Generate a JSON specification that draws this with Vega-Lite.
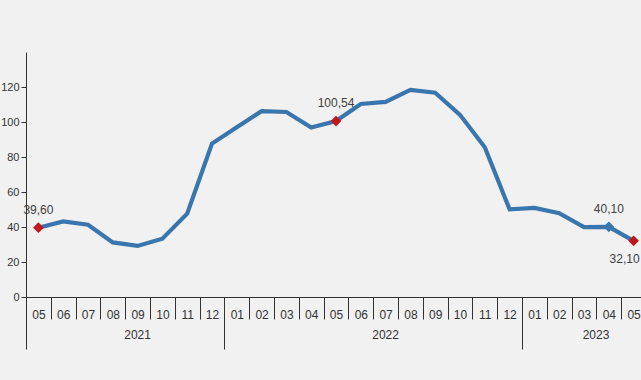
{
  "$schema": "https://vega.github.io/schema/vega-lite/v6.json",
  "width": 615,
  "height": 245,
  "autosize": {"type": "none"},
  "padding": {"left": 26, "top": 52, "right": 0, "bottom": 83},
  "background": "#f1f1f1",
  "config": {"view": {"stroke": null}, "font": "Liberation Sans"},
  "data": {
    "values": [
      {"month": "2021-05", "value": 39.60},
      {"month": "2021-06", "value": 43.2},
      {"month": "2021-07", "value": 41.3},
      {"month": "2021-08", "value": 31.2},
      {"month": "2021-09", "value": 29.2},
      {"month": "2021-10", "value": 33.3},
      {"month": "2021-11", "value": 47.6},
      {"month": "2021-12", "value": 87.7},
      {"month": "2022-01", "value": 97.0},
      {"month": "2022-02", "value": 106.2},
      {"month": "2022-03", "value": 105.7},
      {"month": "2022-04", "value": 96.8},
      {"month": "2022-05", "value": 100.54},
      {"month": "2022-06", "value": 110.3},
      {"month": "2022-07", "value": 111.5},
      {"month": "2022-08", "value": 118.3},
      {"month": "2022-09", "value": 116.7},
      {"month": "2022-10", "value": 104.1},
      {"month": "2022-11", "value": 85.6},
      {"month": "2022-12", "value": 50.1},
      {"month": "2023-01", "value": 50.9},
      {"month": "2023-02", "value": 47.9},
      {"month": "2023-03", "value": 39.9},
      {"month": "2023-04", "value": 40.10},
      {"month": "2023-05", "value": 32.1}
    ]
  },
  "transform": [
    {"calculate": "replace(format(datum.value, '.2f'), '.', ',')", "as": "label"}
  ],
  "resolve": {"axis": {"x": "independent"}},
  "layer": [
    {
      "mark": {"type": "line", "color": "#3a76ae", "strokeWidth": 4.2},
      "encoding": {
        "x": {
          "field": "month", "type": "ordinal", "sort": null,
          "scale": {"paddingInner": 0, "paddingOuter": 0, "range": [0, 620]},
          "axis": {
            "orient": "bottom", "title": null, "tickBand": "extent", "tickSize": 22,
            "tickColor": "#333333", "domainColor": "#333333", "labelAngle": 0,
            "labelPadding": -10, "labelFontSize": 12, "labelColor": "#333333",
            "labelExpr": "isString(datum.value) ? substring(datum.value, 5, 7) : ''", "grid": false
          }
        },
        "y": {
          "field": "value", "type": "quantitative",
          "scale": {"domain": [0, 140], "nice": false},
          "axis": {
            "title": null, "values": [0, 20, 40, 60, 80, 100, 120], "tickSize": 5,
            "labelPadding": 2, "labelFontSize": 11, "labelColor": "#333333",
            "domainColor": "#333333", "tickColor": "#333333", "grid": false
          }
        }
      }
    },
    {
      "transform": [{"filter": "indexof(['2021-05','2022-05','2023-04','2023-05'], datum.month) >= 0"}],
      "mark": {"type": "point", "shape": "diamond", "filled": true, "size": 115, "opacity": 1},
      "encoding": {
        "x": {
          "field": "month", "type": "ordinal", "sort": null,
          "axis": {
            "orient": "bottom", "title": null, "values": ["2021-05", "2022-01", "2023-01"],
            "bandPosition": 0, "tickSize": 52, "tickColor": "#333333", "labels": false,
            "domain": false, "grid": false
          }
        },
        "y": {"field": "value", "type": "quantitative"},
        "color": {
          "condition": {"test": "datum.month == '2023-04'", "value": "#3a76ae"},
          "value": "#c0171d"
        }
      }
    },
    {
      "transform": [{"filter": "indexof(['2021-05','2022-05','2023-04'], datum.month) >= 0"}],
      "mark": {"type": "text", "dy": -18, "fontSize": 12, "color": "#404040"},
      "encoding": {
        "x": {
          "field": "month", "type": "ordinal", "sort": null,
          "axis": {
            "orient": "bottom", "title": null, "values": ["2021-09", "2022-07", "2023-03"],
            "bandPosition": 0, "ticks": false, "domain": false, "grid": false,
            "labelPadding": 32, "labelFontSize": 12, "labelColor": "#333333", "labelAngle": 0,
            "labelExpr": "isString(datum.value) ? substring(datum.value, 0, 4) : ''",
            "labelOffset": {"condition": {"test": "datum.value == '2023-03'", "value": 12}, "value": 0}
          }
        },
        "y": {"field": "value", "type": "quantitative"},
        "text": {"field": "label"}
      }
    },
    {
      "transform": [{"filter": "datum.month == '2023-05'"}],
      "mark": {"type": "text", "dy": 18, "dx": 6, "align": "right", "fontSize": 12, "color": "#404040"},
      "encoding": {
        "x": {"field": "month", "type": "ordinal", "sort": null, "axis": null},
        "y": {"field": "value", "type": "quantitative"},
        "text": {"field": "label"}
      }
    }
  ]
}
